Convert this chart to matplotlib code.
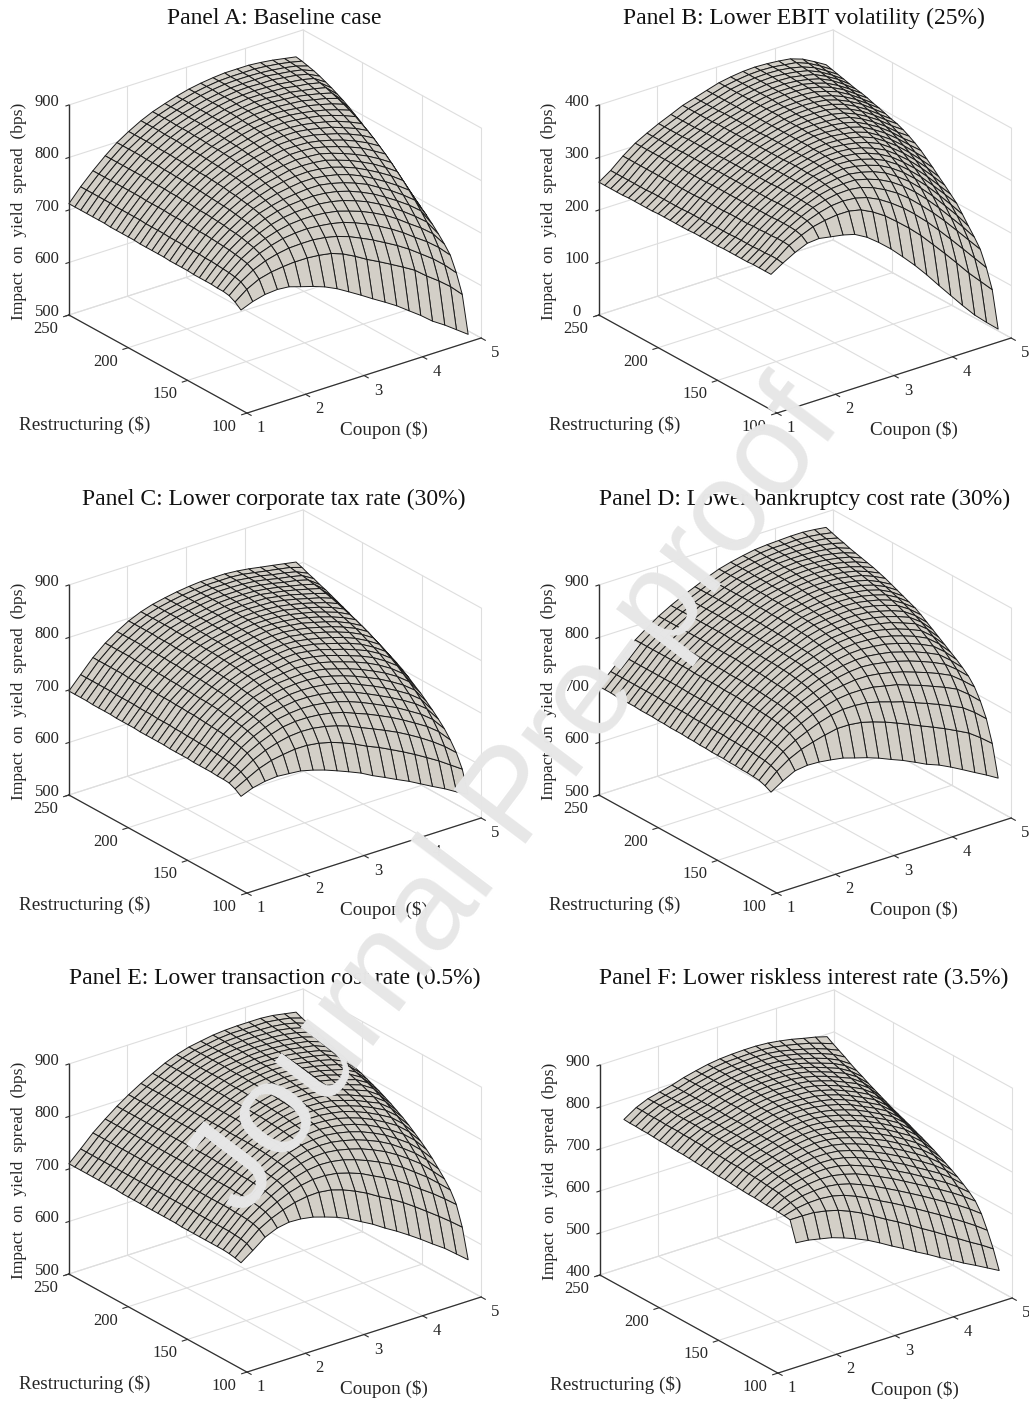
#!/usr/bin/env python3
import matplotlib
matplotlib.use("Agg")
import matplotlib.pyplot as plt
import numpy as np
from mpl_toolkits.mplot3d import proj3d

W, H = 1029, 1401
plt.rcParams["font.family"] = ["Liberation Serif", "DejaVu Serif"]

COUPON = [1.0, 1.2, 1.41, 1.62, 1.82, 2.02, 2.23, 2.43, 2.64, 2.84, 3.05, 3.25, 3.46, 3.66, 3.87, 4.07, 4.27, 4.48, 4.68, 4.88]
RESTRUCT = [105, 110, 115, 120, 125, 130, 135, 140, 145, 150, 155, 160, 165, 170, 175, 180, 185, 190, 195, 200, 205, 210, 215, 220, 225, 230, 235, 240, 245, 250]
COUPON_TICKS = [1, 2, 3, 4, 5]
RESTRUCT_TICKS = [100, 150, 200, 250]

# one row per coupon, one column per restructuring cost (estimates)
Z_A = [
    [690, 699, 705, 707, 707, 708, 708, 708, 708, 709, 709, 709, 709, 710, 710, 710, 710, 710, 711, 711, 711, 711, 711, 712, 712, 712, 712, 712, 712, 712],
    [699, 716, 724, 727, 729, 730, 731, 732, 732, 733, 733, 733, 734, 734, 734, 735, 735, 735, 735, 736, 736, 736, 736, 736, 737, 737, 737, 737, 737, 737],
    [705, 728, 739, 745, 748, 750, 752, 753, 754, 755, 756, 756, 757, 757, 758, 758, 758, 759, 759, 759, 759, 760, 760, 760, 760, 760, 760, 760, 760, 760],
    [707, 734, 749, 757, 762, 765, 768, 770, 771, 773, 774, 775, 776, 776, 777, 778, 778, 779, 779, 780, 780, 780, 781, 781, 781, 781, 781, 781, 781, 781],
    [705, 737, 755, 765, 772, 776, 780, 783, 785, 787, 789, 790, 791, 792, 793, 794, 795, 795, 796, 796, 797, 797, 798, 798, 798, 799, 799, 799, 799, 799],
    [698, 739, 759, 771, 779, 785, 790, 794, 797, 799, 801, 803, 804, 806, 807, 808, 809, 809, 810, 810, 811, 811, 812, 812, 812, 813, 813, 813, 813, 813],
    [691, 739, 760, 774, 784, 791, 797, 801, 805, 808, 811, 813, 815, 817, 818, 819, 820, 821, 822, 823, 823, 824, 824, 825, 825, 825, 826, 826, 826, 826],
    [683, 737, 760, 775, 786, 794, 801, 806, 811, 815, 818, 821, 823, 825, 827, 828, 830, 831, 832, 832, 833, 834, 834, 835, 835, 835, 836, 836, 836, 836],
    [672, 733, 757, 773, 786, 795, 803, 809, 815, 820, 823, 827, 829, 832, 834, 835, 837, 838, 839, 840, 841, 842, 842, 843, 843, 843, 844, 844, 844, 844],
    [659, 725, 752, 770, 784, 795, 804, 811, 818, 823, 828, 831, 834, 837, 839, 841, 843, 844, 846, 847, 848, 848, 849, 849, 850, 850, 850, 851, 851, 851],
    [645, 713, 744, 765, 780, 792, 802, 811, 818, 824, 829, 834, 838, 841, 844, 846, 848, 850, 851, 852, 853, 854, 855, 855, 856, 856, 856, 857, 857, 857],
    [631, 700, 734, 757, 773, 787, 798, 807, 815, 822, 828, 833, 838, 841, 845, 848, 850, 852, 854, 855, 857, 858, 858, 859, 860, 860, 860, 861, 861, 861],
    [617, 688, 723, 747, 765, 779, 791, 801, 810, 818, 825, 831, 836, 840, 844, 848, 850, 853, 855, 857, 858, 860, 861, 862, 862, 863, 863, 864, 864, 864],
    [603, 676, 711, 736, 755, 770, 782, 793, 803, 811, 818, 825, 831, 836, 841, 845, 848, 851, 854, 856, 858, 860, 861, 862, 863, 864, 864, 865, 865, 866],
    [586, 663, 698, 723, 743, 758, 771, 783, 793, 802, 810, 817, 824, 830, 835, 840, 844, 848, 851, 853, 856, 858, 859, 861, 862, 863, 864, 865, 865, 866],
    [570, 650, 684, 709, 729, 745, 758, 770, 781, 791, 800, 808, 816, 823, 829, 835, 839, 844, 847, 851, 854, 856, 858, 860, 861, 863, 864, 864, 865, 866],
    [552, 632, 668, 693, 713, 730, 744, 757, 768, 779, 789, 798, 807, 814, 821, 827, 833, 838, 842, 846, 849, 852, 854, 856, 858, 860, 861, 862, 863, 864],
    [537, 615, 651, 677, 697, 713, 728, 741, 753, 765, 775, 785, 794, 803, 811, 818, 824, 830, 835, 840, 844, 847, 850, 853, 855, 857, 858, 859, 860, 861],
    [521, 597, 632, 659, 679, 695, 710, 724, 737, 749, 760, 771, 781, 790, 799, 807, 814, 821, 827, 832, 837, 841, 845, 848, 850, 852, 854, 855, 856, 857],
    [505, 575, 610, 637, 652, 665, 677, 688, 698, 708, 718, 728, 738, 748, 758, 768, 778, 787, 796, 804, 812, 819, 825, 831, 836, 841, 845, 848, 851, 853],
]

Z_B = [
    [258, 258, 258, 258, 257, 257, 257, 257, 257, 256, 256, 256, 256, 256, 255, 255, 255, 255, 255, 255, 254, 254, 254, 254, 254, 253, 253, 253, 253, 253],
    [272, 274, 274, 273, 273, 272, 272, 272, 272, 271, 271, 271, 270, 270, 270, 270, 270, 269, 269, 269, 269, 269, 269, 268, 268, 268, 268, 268, 268, 268],
    [285, 292, 293, 293, 292, 292, 291, 291, 290, 290, 290, 290, 289, 289, 289, 289, 289, 288, 288, 288, 288, 288, 288, 288, 288, 288, 288, 288, 288, 288],
    [295, 304, 307, 308, 308, 308, 307, 307, 307, 307, 306, 306, 306, 306, 306, 306, 306, 305, 305, 305, 305, 305, 305, 305, 305, 305, 305, 305, 305, 305],
    [297, 313, 318, 320, 321, 321, 321, 321, 320, 320, 320, 320, 319, 319, 319, 319, 319, 319, 318, 318, 318, 318, 318, 318, 317, 317, 317, 317, 317, 317],
    [293, 318, 326, 330, 331, 332, 332, 332, 332, 332, 331, 331, 331, 331, 330, 330, 330, 330, 330, 329, 329, 329, 329, 329, 329, 328, 328, 328, 328, 328],
    [289, 321, 332, 337, 340, 341, 342, 342, 342, 342, 342, 342, 341, 341, 341, 341, 340, 340, 340, 340, 339, 339, 339, 339, 339, 338, 338, 338, 338, 338],
    [283, 321, 334, 341, 345, 347, 349, 350, 350, 351, 351, 351, 350, 350, 350, 350, 350, 350, 349, 349, 349, 349, 349, 349, 348, 348, 348, 348, 348, 348],
    [270, 316, 332, 342, 347, 351, 353, 355, 356, 357, 357, 357, 357, 357, 357, 357, 357, 357, 356, 356, 356, 356, 356, 356, 356, 355, 355, 355, 355, 355],
    [253, 305, 326, 339, 347, 352, 356, 358, 360, 361, 362, 362, 363, 363, 363, 363, 363, 363, 363, 363, 363, 363, 363, 362, 362, 362, 362, 362, 362, 362],
    [233, 290, 315, 331, 341, 348, 353, 357, 360, 362, 364, 365, 366, 367, 367, 368, 368, 368, 368, 369, 369, 369, 369, 369, 369, 369, 369, 369, 369, 369],
    [211, 272, 301, 320, 333, 342, 348, 353, 357, 360, 362, 364, 366, 367, 368, 369, 370, 371, 371, 372, 372, 372, 373, 373, 373, 373, 373, 373, 373, 373],
    [187, 252, 284, 306, 321, 332, 340, 346, 351, 355, 358, 361, 363, 365, 367, 368, 370, 371, 372, 373, 373, 374, 375, 375, 375, 376, 376, 376, 376, 376],
    [162, 231, 265, 289, 306, 318, 328, 336, 342, 347, 352, 356, 359, 362, 364, 366, 368, 370, 371, 372, 373, 374, 375, 375, 376, 376, 377, 377, 377, 377],
    [134, 206, 243, 268, 287, 301, 312, 321, 329, 336, 342, 347, 351, 355, 358, 361, 363, 365, 367, 369, 370, 372, 373, 374, 374, 375, 375, 376, 376, 376],
    [108, 182, 220, 247, 266, 281, 293, 303, 312, 320, 327, 333, 338, 343, 347, 351, 354, 357, 360, 362, 364, 366, 368, 369, 370, 371, 372, 373, 373, 374],
    [82, 157, 196, 224, 243, 259, 272, 283, 293, 302, 310, 317, 323, 329, 334, 338, 342, 346, 349, 352, 355, 358, 360, 362, 364, 366, 367, 368, 370, 371],
    [56, 130, 170, 198, 217, 233, 247, 259, 270, 280, 289, 297, 304, 311, 317, 322, 327, 331, 335, 339, 342, 345, 348, 350, 353, 355, 357, 359, 361, 363],
    [35, 107, 145, 173, 192, 208, 222, 235, 246, 257, 267, 276, 284, 292, 298, 304, 310, 315, 319, 323, 327, 330, 333, 336, 339, 342, 344, 346, 349, 351],
    [15, 84, 120, 148, 165, 180, 196, 211, 222, 233, 243, 254, 264, 274, 282, 289, 295, 300, 303, 307, 311, 314, 318, 321, 323, 326, 329, 332, 335, 338],
]

Z_C = [
    [678, 686, 691, 692, 692, 693, 693, 693, 693, 694, 694, 694, 694, 695, 695, 695, 695, 695, 696, 696, 696, 696, 697, 697, 697, 697, 698, 698, 698, 698],
    [687, 698, 705, 709, 711, 713, 714, 715, 716, 716, 717, 717, 718, 718, 719, 719, 719, 720, 720, 720, 721, 721, 721, 721, 722, 722, 722, 722, 722, 722],
    [692, 710, 720, 727, 731, 734, 736, 738, 739, 740, 741, 742, 743, 743, 744, 744, 745, 745, 745, 746, 746, 746, 746, 746, 747, 747, 747, 747, 747, 747],
    [694, 718, 731, 739, 745, 749, 752, 754, 756, 757, 759, 760, 761, 761, 762, 763, 763, 764, 764, 765, 765, 766, 766, 766, 766, 767, 767, 767, 767, 767],
    [692, 722, 738, 748, 755, 760, 763, 766, 769, 771, 772, 774, 775, 776, 777, 778, 778, 779, 779, 780, 780, 781, 781, 781, 781, 782, 782, 782, 782, 782],
    [690, 725, 743, 755, 763, 769, 774, 777, 780, 782, 784, 786, 787, 788, 789, 790, 791, 791, 792, 793, 793, 793, 794, 794, 794, 795, 795, 795, 795, 795],
    [684, 725, 745, 758, 767, 774, 779, 784, 787, 790, 793, 795, 796, 798, 799, 800, 801, 802, 802, 803, 803, 804, 804, 804, 805, 805, 805, 805, 805, 805],
    [677, 722, 744, 758, 769, 777, 783, 788, 792, 795, 798, 800, 802, 804, 805, 806, 807, 808, 809, 809, 810, 810, 811, 811, 811, 812, 812, 812, 812, 812],
    [668, 716, 740, 756, 768, 777, 784, 790, 794, 798, 801, 804, 806, 808, 810, 811, 812, 813, 814, 814, 815, 815, 816, 816, 816, 817, 817, 817, 817, 817],
    [659, 708, 734, 752, 765, 775, 783, 790, 795, 800, 804, 807, 809, 811, 813, 815, 816, 817, 818, 818, 819, 819, 820, 820, 820, 821, 821, 821, 821, 821],
    [649, 698, 726, 746, 760, 771, 780, 788, 794, 799, 804, 808, 811, 813, 815, 817, 819, 820, 821, 822, 822, 823, 823, 823, 824, 824, 824, 824, 824, 824],
    [637, 687, 716, 737, 753, 765, 775, 783, 790, 796, 801, 805, 809, 812, 815, 817, 819, 820, 821, 822, 823, 824, 824, 825, 825, 825, 826, 826, 826, 826],
    [626, 677, 706, 728, 744, 757, 768, 776, 783, 790, 796, 801, 805, 808, 811, 814, 816, 818, 820, 821, 822, 823, 824, 825, 825, 825, 826, 826, 826, 826],
    [615, 666, 696, 718, 734, 747, 758, 768, 776, 783, 789, 794, 799, 803, 807, 810, 813, 815, 817, 819, 820, 822, 823, 824, 824, 825, 825, 826, 826, 826],
    [604, 654, 685, 707, 723, 736, 748, 758, 767, 775, 781, 787, 792, 797, 801, 804, 807, 810, 812, 814, 816, 818, 819, 820, 821, 822, 823, 823, 824, 824],
    [592, 642, 673, 695, 712, 725, 737, 748, 757, 766, 773, 779, 785, 790, 794, 798, 801, 804, 807, 809, 811, 813, 815, 816, 817, 818, 819, 820, 820, 821],
    [580, 629, 660, 682, 699, 713, 725, 736, 746, 755, 763, 770, 776, 781, 786, 790, 794, 797, 800, 803, 805, 807, 809, 811, 812, 813, 814, 815, 816, 817],
    [568, 615, 645, 668, 685, 699, 711, 722, 732, 741, 749, 757, 763, 769, 775, 780, 784, 788, 792, 795, 798, 801, 803, 805, 807, 809, 810, 811, 812, 813],
    [555, 600, 629, 651, 668, 682, 694, 705, 715, 724, 733, 741, 748, 755, 761, 767, 772, 777, 781, 785, 789, 793, 796, 799, 801, 803, 805, 806, 808, 809],
    [543, 585, 610, 628, 643, 655, 666, 676, 686, 694, 703, 711, 718, 724, 730, 736, 741, 746, 752, 757, 763, 768, 773, 778, 783, 787, 792, 796, 801, 805],
]

Z_D = [
    [686, 692, 696, 697, 698, 698, 699, 699, 700, 700, 700, 701, 701, 702, 702, 703, 703, 703, 704, 704, 705, 705, 705, 706, 706, 706, 706, 707, 707, 707],
    [700, 712, 717, 720, 721, 722, 723, 723, 724, 724, 725, 725, 725, 726, 726, 726, 727, 727, 727, 727, 727, 728, 728, 728, 728, 728, 728, 728, 728, 728],
    [712, 728, 736, 740, 742, 744, 745, 746, 746, 747, 747, 748, 748, 748, 749, 749, 749, 749, 749, 750, 750, 750, 750, 750, 750, 750, 750, 750, 750, 750],
    [715, 739, 750, 757, 761, 764, 766, 767, 768, 769, 770, 770, 771, 771, 771, 772, 772, 772, 772, 772, 773, 773, 773, 773, 773, 773, 773, 773, 773, 773],
    [714, 746, 760, 769, 774, 778, 780, 782, 783, 784, 785, 786, 786, 787, 787, 787, 788, 788, 788, 788, 788, 789, 789, 789, 789, 789, 789, 789, 789, 789],
    [711, 752, 769, 779, 786, 790, 793, 795, 797, 798, 799, 800, 801, 801, 802, 802, 803, 803, 803, 803, 803, 804, 804, 804, 804, 804, 804, 804, 804, 804],
    [707, 757, 776, 787, 795, 800, 804, 807, 809, 811, 812, 813, 814, 814, 815, 815, 816, 816, 816, 816, 817, 817, 817, 817, 817, 817, 817, 817, 817, 817],
    [700, 757, 780, 793, 802, 808, 813, 816, 819, 821, 822, 823, 824, 825, 826, 826, 826, 827, 827, 827, 827, 828, 828, 828, 828, 828, 828, 828, 828, 828],
    [693, 754, 780, 796, 806, 814, 819, 823, 826, 829, 831, 832, 833, 834, 835, 835, 836, 836, 837, 837, 837, 837, 838, 838, 838, 838, 838, 838, 838, 838],
    [685, 748, 778, 796, 809, 818, 824, 829, 833, 836, 838, 840, 842, 843, 844, 845, 845, 846, 846, 847, 847, 847, 848, 848, 848, 848, 848, 848, 848, 848],
    [675, 740, 772, 794, 809, 820, 827, 833, 837, 841, 844, 846, 848, 850, 851, 852, 853, 854, 854, 855, 855, 856, 856, 856, 857, 857, 857, 857, 857, 857],
    [666, 731, 765, 789, 806, 818, 827, 834, 839, 843, 846, 849, 851, 853, 855, 856, 857, 858, 859, 860, 860, 861, 861, 862, 862, 862, 863, 863, 863, 863],
    [655, 721, 758, 784, 801, 814, 824, 832, 838, 843, 847, 850, 853, 855, 857, 859, 860, 862, 863, 864, 865, 865, 866, 866, 867, 867, 867, 868, 868, 868],
    [644, 711, 749, 776, 795, 809, 820, 829, 836, 842, 846, 850, 853, 856, 858, 860, 862, 864, 865, 866, 867, 868, 869, 870, 870, 871, 871, 871, 872, 872],
    [635, 701, 740, 768, 787, 802, 813, 823, 831, 837, 842, 847, 851, 854, 857, 859, 861, 863, 865, 866, 868, 869, 870, 871, 872, 872, 873, 873, 874, 874],
    [624, 691, 731, 759, 779, 794, 806, 816, 824, 831, 837, 842, 846, 850, 853, 856, 858, 861, 863, 865, 866, 868, 869, 870, 871, 872, 873, 874, 874, 875],
    [612, 680, 721, 750, 770, 785, 797, 807, 816, 823, 829, 835, 840, 844, 848, 851, 854, 857, 859, 861, 863, 865, 867, 868, 870, 871, 872, 874, 875, 876],
    [599, 668, 710, 739, 759, 774, 786, 796, 805, 813, 820, 826, 831, 836, 840, 844, 847, 850, 853, 856, 858, 860, 862, 864, 866, 868, 870, 872, 874, 876],
    [587, 652, 694, 722, 742, 757, 768, 778, 787, 795, 803, 810, 816, 822, 827, 832, 836, 840, 843, 847, 850, 853, 856, 859, 861, 864, 866, 869, 871, 874],
    [574, 634, 675, 702, 723, 737, 747, 756, 764, 772, 780, 788, 796, 804, 811, 816, 821, 826, 831, 836, 840, 844, 847, 850, 853, 856, 860, 863, 867, 871],
]

Z_E = [
    [702, 705, 707, 708, 708, 708, 708, 708, 708, 708, 708, 709, 709, 709, 709, 709, 709, 709, 709, 709, 709, 710, 710, 710, 710, 710, 710, 710, 710, 710],
    [718, 725, 728, 729, 730, 730, 730, 730, 730, 730, 731, 731, 731, 731, 731, 731, 731, 731, 731, 731, 731, 731, 731, 731, 731, 731, 731, 731, 731, 731],
    [736, 745, 749, 751, 752, 752, 753, 753, 753, 753, 753, 753, 753, 754, 754, 754, 754, 754, 754, 754, 754, 754, 754, 754, 754, 754, 754, 754, 754, 754],
    [746, 758, 764, 767, 769, 770, 771, 771, 772, 772, 772, 772, 773, 773, 773, 773, 773, 773, 773, 773, 773, 773, 773, 773, 773, 773, 773, 773, 773, 773],
    [750, 767, 776, 781, 784, 786, 787, 788, 788, 789, 789, 789, 789, 790, 790, 790, 790, 790, 790, 790, 790, 790, 790, 790, 790, 790, 790, 790, 790, 790],
    [749, 774, 786, 793, 797, 799, 801, 802, 803, 803, 804, 804, 804, 804, 805, 805, 805, 805, 805, 805, 805, 805, 805, 805, 805, 805, 805, 805, 805, 805],
    [745, 778, 793, 802, 808, 811, 813, 815, 816, 817, 817, 818, 818, 818, 818, 819, 819, 819, 819, 819, 819, 819, 819, 819, 819, 819, 819, 819, 819, 819],
    [738, 779, 797, 808, 815, 820, 823, 825, 827, 828, 829, 829, 830, 830, 830, 831, 831, 831, 831, 831, 831, 831, 831, 831, 831, 831, 831, 831, 831, 831],
    [730, 776, 797, 811, 820, 826, 830, 833, 835, 837, 838, 839, 840, 841, 841, 842, 842, 842, 842, 843, 843, 843, 843, 843, 843, 843, 843, 843, 843, 843],
    [720, 769, 794, 810, 821, 828, 833, 837, 840, 842, 844, 846, 847, 848, 849, 849, 850, 850, 851, 851, 851, 852, 852, 852, 852, 852, 852, 852, 852, 852],
    [707, 759, 787, 806, 818, 827, 834, 839, 843, 846, 848, 850, 852, 853, 854, 855, 856, 856, 857, 857, 858, 858, 858, 859, 859, 859, 859, 859, 859, 859],
    [695, 748, 779, 799, 813, 823, 831, 837, 842, 846, 849, 851, 853, 855, 856, 858, 859, 859, 860, 861, 861, 862, 862, 862, 863, 863, 863, 863, 863, 863],
    [680, 734, 767, 790, 806, 817, 826, 833, 839, 843, 847, 850, 853, 855, 857, 858, 860, 861, 862, 863, 864, 864, 865, 865, 866, 866, 866, 867, 867, 867],
    [667, 722, 756, 780, 797, 809, 819, 827, 833, 839, 843, 847, 850, 852, 855, 857, 858, 860, 861, 862, 863, 864, 865, 866, 867, 867, 868, 868, 869, 869],
    [652, 708, 743, 768, 786, 799, 809, 818, 825, 831, 836, 840, 844, 847, 850, 852, 854, 856, 858, 860, 861, 863, 864, 865, 866, 867, 868, 869, 869, 870],
    [637, 693, 729, 755, 773, 787, 798, 807, 815, 822, 828, 833, 837, 841, 844, 847, 850, 852, 854, 856, 858, 860, 862, 863, 865, 866, 867, 868, 869, 870],
    [621, 677, 713, 739, 758, 772, 784, 794, 803, 811, 818, 823, 828, 833, 837, 840, 843, 846, 849, 852, 854, 856, 858, 860, 862, 864, 866, 867, 869, 870],
    [605, 660, 697, 722, 741, 755, 768, 779, 789, 798, 806, 813, 819, 824, 829, 833, 837, 840, 843, 846, 849, 851, 854, 856, 858, 860, 862, 864, 866, 868],
    [587, 643, 680, 703, 720, 735, 748, 760, 770, 779, 788, 796, 803, 809, 815, 820, 824, 828, 832, 836, 839, 842, 845, 848, 851, 854, 856, 859, 862, 864],
    [569, 625, 662, 683, 698, 711, 724, 735, 745, 754, 763, 771, 778, 785, 791, 797, 802, 807, 812, 816, 821, 825, 829, 833, 838, 842, 846, 851, 855, 860],
]

# panel F starts at the third coupon value
Z_F = [
    [684, 731, 733, 734, 735, 735, 736, 737, 737, 738, 739, 740, 741, 741, 742, 743, 743, 744, 745, 746, 746, 747, 748, 748, 749, 750, 750, 751, 751, 752],
    [681, 731, 741, 747, 751, 754, 756, 757, 759, 760, 761, 762, 763, 763, 764, 765, 765, 766, 767, 767, 768, 768, 769, 769, 769, 770, 770, 770, 771, 771],
    [675, 730, 745, 754, 760, 764, 767, 769, 771, 773, 775, 776, 777, 778, 779, 779, 780, 780, 781, 781, 781, 782, 782, 782, 782, 783, 783, 783, 783, 783],
    [669, 725, 746, 757, 765, 770, 774, 777, 779, 781, 783, 784, 785, 786, 787, 787, 788, 788, 788, 789, 789, 789, 789, 790, 790, 790, 790, 790, 790, 790],
    [659, 717, 743, 758, 768, 775, 779, 783, 785, 788, 790, 791, 793, 793, 794, 795, 795, 796, 796, 796, 796, 797, 797, 797, 797, 797, 797, 797, 797, 797],
    [648, 706, 736, 754, 767, 776, 782, 787, 790, 793, 795, 797, 799, 800, 801, 802, 803, 803, 804, 804, 805, 805, 805, 806, 806, 806, 806, 806, 806, 806],
    [635, 692, 724, 746, 761, 773, 781, 787, 792, 796, 799, 801, 803, 805, 807, 808, 809, 810, 810, 811, 812, 812, 812, 813, 813, 813, 813, 813, 813, 813],
    [620, 676, 711, 735, 753, 766, 776, 784, 790, 795, 799, 802, 805, 807, 809, 811, 812, 813, 815, 815, 816, 817, 817, 818, 818, 818, 819, 819, 819, 819],
    [603, 659, 695, 722, 741, 755, 767, 776, 784, 790, 795, 799, 803, 806, 808, 811, 812, 814, 815, 817, 818, 819, 820, 820, 821, 822, 822, 822, 823, 823],
    [588, 644, 681, 708, 728, 744, 756, 766, 775, 782, 788, 793, 798, 802, 805, 808, 810, 812, 814, 816, 817, 819, 820, 821, 822, 823, 823, 824, 824, 825],
    [571, 627, 665, 693, 714, 730, 743, 754, 764, 772, 779, 785, 790, 795, 799, 803, 806, 809, 812, 814, 816, 818, 819, 821, 822, 823, 824, 825, 825, 826],
    [556, 610, 649, 678, 699, 715, 729, 741, 751, 760, 768, 775, 781, 786, 791, 796, 800, 803, 806, 809, 812, 814, 816, 818, 820, 821, 823, 824, 825, 826],
    [539, 593, 632, 662, 683, 700, 714, 726, 737, 747, 755, 762, 769, 775, 781, 786, 790, 794, 798, 801, 804, 807, 810, 812, 814, 816, 818, 820, 822, 824],
    [524, 576, 616, 646, 668, 684, 698, 711, 722, 732, 741, 749, 756, 762, 768, 773, 778, 783, 787, 791, 795, 798, 801, 804, 806, 809, 812, 814, 817, 820],
    [508, 559, 599, 630, 652, 668, 682, 695, 706, 716, 725, 733, 741, 748, 754, 760, 765, 770, 775, 779, 783, 787, 791, 794, 797, 801, 804, 807, 811, 815],
    [493, 541, 581, 613, 635, 651, 665, 677, 688, 698, 707, 716, 724, 731, 738, 744, 750, 755, 760, 765, 770, 775, 779, 783, 787, 791, 795, 799, 804, 808],
    [478, 525, 563, 595, 617, 632, 645, 656, 666, 676, 685, 693, 701, 708, 715, 721, 727, 733, 739, 745, 751, 756, 762, 767, 773, 778, 784, 789, 795, 802],
    [463, 507, 543, 575, 597, 610, 621, 631, 640, 648, 656, 664, 671, 678, 684, 691, 697, 703, 709, 716, 723, 730, 737, 745, 752, 760, 769, 777, 785, 794],
]

TITLES = [
    "Panel A: Baseline case",
    "Panel B: Lower EBIT volatility (25%)",
    "Panel C: Lower corporate tax rate (30%)",
    "Panel D: Lower bankruptcy cost rate (30%)",
    "Panel E: Lower transaction cost rate (0.5%)",
    "Panel F: Lower riskless interest rate (3.5%)",
]
Z_TICKS = [
    [500, 600, 700, 800, 900],
    [0, 100, 200, 300, 400],
    [500, 600, 700, 800, 900],
    [500, 600, 700, 800, 900],
    [500, 600, 700, 800, 900],
    [400, 500, 600, 700, 800, 900],
]
TABLES = [Z_A, Z_B, Z_C, Z_D, Z_E, Z_F]

# pixel spots: front bottom corner of each box, centre of each title
FRONTS = [(247, 413), (777, 413), (247, 893), (777, 893), (247, 1372), (778, 1373)]
TITLE_XY = [(274, 18), (804, 18), (274, 499), (805, 499), (275, 978), (804, 978)]

GRID = "#dedede"
AXIS = "#303030"
TEXT = "#262626"
SIDE = 462
TICK_SIZE = 12
LABEL_SIZE = 13.8
YLABEL_SIZE = 12.6
TITLE_SIZE = 17


def draw_panel(fig, title, front, title_xy, zticks, table):
    cx, cy = front[0] + 28, front[1] - 191.5
    left = (cx - 0.5135 * SIDE) / W
    bottom = 1 - (cy + 0.5135 * SIDE) / H
    ax = fig.add_axes([left, bottom, SIDE / W, SIDE / H], projection="3d")
    ax.set_proj_type("ortho")
    ax.view_init(elev=24.85, azim=-127.34)
    ax.set_box_aspect((294, 293, 231))
    ax.set_xlim(1, 5, view_margin=0)
    ax.set_ylim(100, 250, view_margin=0)
    ax.set_zlim(zticks[0], zticks[-1], view_margin=0)
    ax.set_axis_off()
    ax.computed_zorder = False
    zlo, zhi = zticks[0], zticks[-1]

    def line(xs, ys, zs, color=GRID, lw=0.8, zorder=1):
        ax.plot(xs, ys, zs, color=color, lw=lw, zorder=zorder, clip_on=False)

    for c in COUPON_TICKS:
        line([c, c], [100, 250], [zlo, zlo])
        line([c, c], [250, 250], [zlo, zhi])
    for r in RESTRUCT_TICKS:
        line([1, 5], [r, r], [zlo, zlo])
        line([5, 5], [r, r], [zlo, zhi])
    for z in zticks:
        line([1, 5], [250, 250], [z, z])
        line([5, 5], [100, 250], [z, z])

    coupon = COUPON[-len(table):]
    cc, rr = np.meshgrid(coupon, RESTRUCT, indexing="ij")
    ax.plot_surface(cc, rr, np.array(table, dtype=float), rstride=1, cstride=1, color="#d3cfc7",
                    edgecolor="#1a1a1a", linewidth=0.7, shade=False, zorder=2, antialiased=True)

    line([1, 5], [100, 100], [zlo, zlo], AXIS, 0.9, 3)
    line([1, 1], [100, 250], [zlo, zlo], AXIS, 0.9, 3)
    line([1, 1], [250, 250], [zlo, zhi], AXIS, 1.0, 3)
    for c in COUPON_TICKS:
        line([c, c], [100, 96.5], [zlo, zlo], AXIS, 0.8, 3)
    for r in RESTRUCT_TICKS:
        line([1, 0.91], [r, r], [zlo, zlo], AXIS, 0.8, 3)
    for z in zticks:
        line([1, 0.95], [250, 250], [z, z], AXIS, 0.8, 3)

    def label(x, y, z, text, dx, dy):
        px, py, _ = proj3d.proj_transform(x, y, z, ax.get_proj())
        ax.annotate(text, (px, py), xytext=(dx, dy), textcoords="offset pixels", ha="center", va="center",
                    fontsize=TICK_SIZE, color=TEXT, annotation_clip=False)

    for c in COUPON_TICKS:
        label(c, 100, zlo, str(c), 14, -15)
    for r in RESTRUCT_TICKS:
        label(1, r, zlo, str(r), -23, -14)
    for z in zticks:
        label(1, 250, z, str(z), -22, 3)

    fx, fy = front
    fig.text((fx + 137) / W, 1 - (fy + 17) / H, "Coupon ($)", ha="center", va="center", fontsize=LABEL_SIZE, color=TEXT)
    fig.text((fx - 162) / W, 1 - (fy + 12) / H, "Restructuring ($)", ha="center", va="center", fontsize=LABEL_SIZE, color=TEXT)
    fig.text((fx - 228) / W, 1 - (fy - 202) / H, "Impact  on  yield  spread  (bps)", rotation=90, ha="center", va="center",
             fontsize=YLABEL_SIZE, color=TEXT)
    fig.text(title_xy[0] / W, 1 - title_xy[1] / H, title, ha="center", va="center", fontsize=TITLE_SIZE, color="#111111")


fig = plt.figure(figsize=(W / 100, H / 100), dpi=100, facecolor="white")
for title, front, title_xy, zticks, table in zip(TITLES, FRONTS, TITLE_XY, Z_TICKS, TABLES):
    draw_panel(fig, title, front, title_xy, zticks, table)

fig.text(517 / W, 1 - 800 / H, "Journal Pre-proof", rotation=53, rotation_mode="anchor", ha="center", va="center",
         fontsize=93, family=["Liberation Sans", "DejaVu Sans"], color="#e7e7e7", zorder=10)

fig.savefig("out.png", dpi=100)
